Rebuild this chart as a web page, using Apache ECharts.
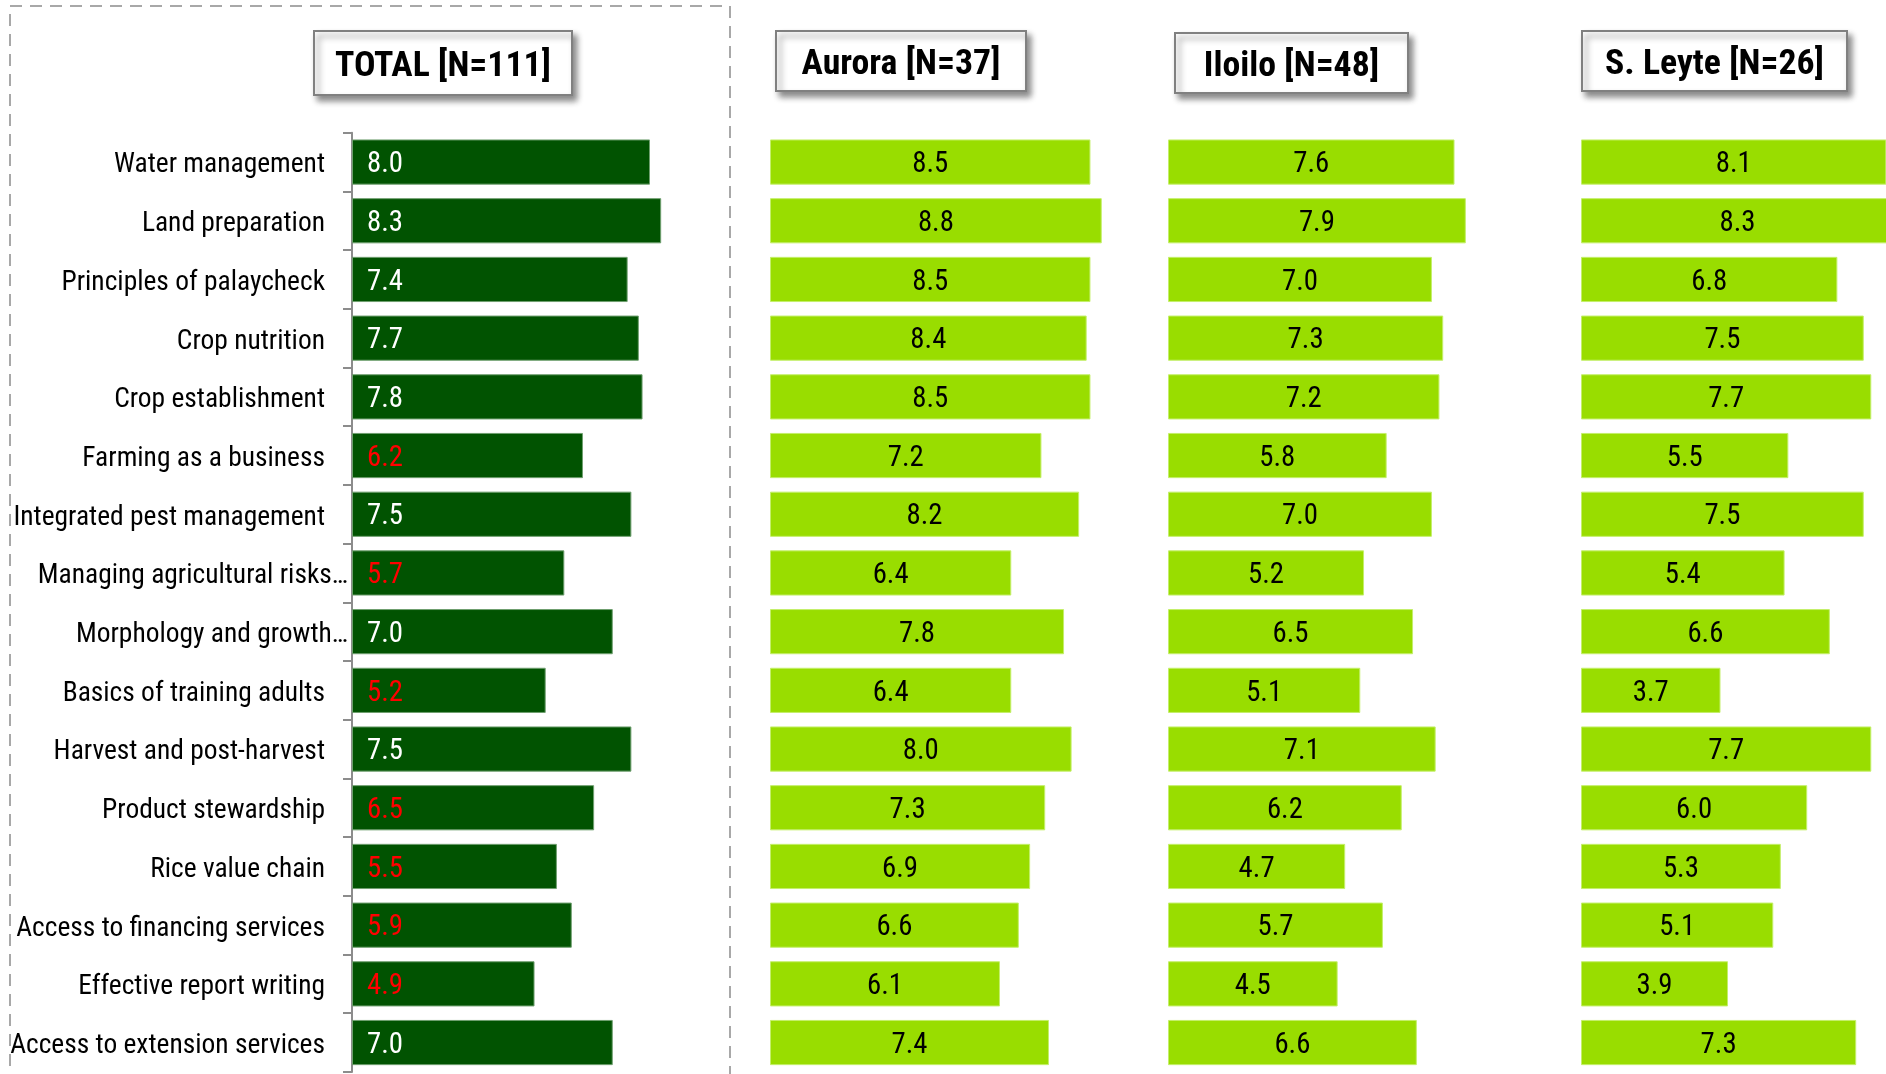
<!DOCTYPE html>
<html>
<head>
<meta charset="utf-8">
<script src="https://cdn.jsdelivr.net/npm/echarts@6/dist/echarts.min.js"></script>
<style>
html,body{margin:0;padding:0;background:#fff;}
#chart{width:1886px;height:1074px;}
</style>
</head>
<body>
<div id="chart"></div>
<script>
var categories = [
  'Water management',
  'Land preparation',
  'Principles of palaycheck',
  'Crop nutrition',
  'Crop establishment',
  'Farming as a business',
  'Integrated pest management',
  'Managing agricultural risks\u2026',
  'Morphology and growth\u2026',
  'Basics of training adults',
  'Harvest and post-harvest',
  'Product stewardship',
  'Rice value chain',
  'Access to financing services',
  'Effective report writing',
  'Access to extension services'
];
var panelTitles = ['TOTAL [N=111]', 'Aurora [N=37]', 'Iloilo [N=48]', 'S. Leyte [N=26]'];
var totalValues  = [8.0, 8.3, 7.4, 7.7, 7.8, 6.2, 7.5, 5.7, 7.0, 5.2, 7.5, 6.5, 5.5, 5.9, 4.9, 7.0];
var auroraValues = [8.5, 8.8, 8.5, 8.4, 8.5, 7.2, 8.2, 6.4, 7.8, 6.4, 8.0, 7.3, 6.9, 6.6, 6.1, 7.4];
var iloiloValues = [7.6, 7.9, 7.0, 7.3, 7.2, 5.8, 7.0, 5.2, 6.5, 5.1, 7.1, 6.2, 4.7, 5.7, 4.5, 6.6];
var leyteValues  = [8.1, 8.3, 6.8, 7.5, 7.7, 5.5, 7.5, 5.4, 6.6, 3.7, 7.7, 6.0, 5.3, 5.1, 3.9, 7.3];
var redThreshold = 7.0;

// pick the narrowest available sans font (reference uses a condensed face)
var ctx = document.createElement('canvas').getContext('2d');
function fontAvailable(f) {
  var probe = 'Water management TOTAL [N=111] 8.0';
  ctx.font = '40px monospace';
  var a = ctx.measureText(probe).width;
  ctx.font = '40px serif';
  var a2 = ctx.measureText(probe).width;
  ctx.font = '40px "' + f + '", monospace';
  var b = ctx.measureText(probe).width;
  ctx.font = '40px "' + f + '", serif';
  var b2 = ctx.measureText(probe).width;
  return a !== b || a2 !== b2;
}
var candidates = ['Liberation Sans Narrow', 'Arial Narrow', 'Roboto Condensed', 'Noto Sans Condensed',
  'Open Sans Condensed', 'Noto Sans ExtraCondensed', 'Liberation Sans', 'DejaVu Sans Condensed'];
var FAMILY = 'sans-serif';
for (var i = 0; i < candidates.length; i++) {
  if (fontAvailable(candidates[i])) { FAMILY = candidates[i]; break; }
}
var FONT = "'" + FAMILY + "', sans-serif";
function fitSize(text, weight, target, nominal) {
  ctx.font = weight + ' 100px ' + FONT;
  var w = ctx.measureText(text).width;
  var s = 100 * target / w;
  return Math.min(s, nominal * 1.1);
}
var catSize = fitSize('Water management', 'normal', 211, 28);
var valSize = fitSize('8.5', 'normal', 36, 30);
var headSize = fitSize('TOTAL [N=111]', 'bold', 216, 35);

var DARK = '#015301';
var LIGHT = '#99DD00';

var chart = echarts.init(document.getElementById('chart'), null, {renderer: 'canvas'});

var gridTop = 132.7, gridH = 939.2;
var lefts = [352, 770, 1168, 1581];
var widths = [372.5, 377, 377, 377];
var grids = lefts.map(function (l, i) {
  return {left: l, top: gridTop, width: widths[i], height: gridH, containLabel: false, outerBoundsMode: 'none'};
});

var xAxes = lefts.map(function (l, i) {
  return {type: 'value', gridIndex: i, min: 0, max: 10, show: false};
});
var yAxes = lefts.map(function (l, i) {
  if (i === 0) {
    return {
      type: 'category', gridIndex: 0, data: categories, inverse: true,
      axisLine: {show: true, lineStyle: {color: '#8c8c8c', width: 2}},
      axisTick: {show: true, length: 9, lineStyle: {color: '#8c8c8c', width: 2}},
      axisLabel: {
        margin: 4,
        formatter: function (v) {
          return v.slice(-1) === '\u2026' ? '{t|' + v + '}' : '{n|' + v + '}';
        },
        rich: {
          t: {fontFamily: FONT, fontSize: catSize, color: '#000', padding: [7, 0, 0, 0]},
          n: {fontFamily: FONT, fontSize: catSize, color: '#000', padding: [7, 23, 0, 0]}
        }
      }
    };
  }
  return {type: 'category', gridIndex: i, data: categories, inverse: true, show: false};
});

function regionSeries(idx, values) {
  return {
    type: 'bar', xAxisIndex: idx, yAxisIndex: idx, data: values,
    barCategoryGap: '23%',
    itemStyle: {color: LIGHT, borderColor: '#c4ef6a', borderWidth: 1},
    label: {
      show: true, position: 'inside', offset: [0, 3], fontFamily: FONT, fontSize: valSize, color: '#000',
      formatter: function (p) { return p.value.toFixed(1); }
    },
    silent: true, animation: false
  };
}

var series = [
  {
    type: 'bar', xAxisIndex: 0, yAxisIndex: 0, data: totalValues,
    barCategoryGap: '23%',
    itemStyle: {color: DARK, borderColor: '#6f9f6f', borderWidth: 1},
    label: {
      show: true, position: 'insideLeft', distance: 15, offset: [0, 3],
      formatter: function (p) {
        var s = p.value.toFixed(1);
        return p.value < redThreshold ? '{r|' + s + '}' : '{w|' + s + '}';
      },
      rich: {
        r: {fontFamily: FONT, fontSize: valSize, color: '#ff0000'},
        w: {fontFamily: FONT, fontSize: valSize, color: '#ffffff'}
      }
    },
    silent: true, animation: false
  },
  regionSeries(1, auroraValues),
  regionSeries(2, iloiloValues),
  regionSeries(3, leyteValues)
];

var boxes = [
  {x: 314, y: 31, w: 258, h: 64},
  {x: 776, y: 31, w: 250, h: 60},
  {x: 1175, y: 33, w: 233, h: 60},
  {x: 1582, y: 31, w: 265, h: 60}
];
var graphics = [{
  type: 'rect', z: 0, silent: true,
  shape: {x: 10, y: 6, width: 720, height: 1120},
  style: {fill: 'none', stroke: '#a8a8a8', lineWidth: 2, lineDash: [12, 8]}
}];
boxes.forEach(function (b, i) {
  graphics.push({
    type: 'rect', z: 10, silent: true,
    shape: {x: b.x, y: b.y, width: b.w, height: b.h},
    style: {fill: '#ffffff', stroke: '#808080', lineWidth: 2,
      shadowBlur: 6, shadowOffsetX: 4, shadowOffsetY: 5, shadowColor: 'rgba(0,0,0,0.45)'}
  });
  graphics.push({
    type: 'text', z: 11, silent: true,
    x: b.x + b.w / 2, y: b.y + b.h / 2 + 4,
    style: {text: panelTitles[i], fontFamily: FONT, fontWeight: 'bold', fontSize: headSize,
      fill: '#000', align: 'center', verticalAlign: 'middle'}
  });
});

chart.setOption({
  animation: false,
  backgroundColor: '#ffffff',
  grid: grids,
  xAxis: xAxes,
  yAxis: yAxes,
  series: series,
  graphic: graphics
});
</script>
</body>
</html>
